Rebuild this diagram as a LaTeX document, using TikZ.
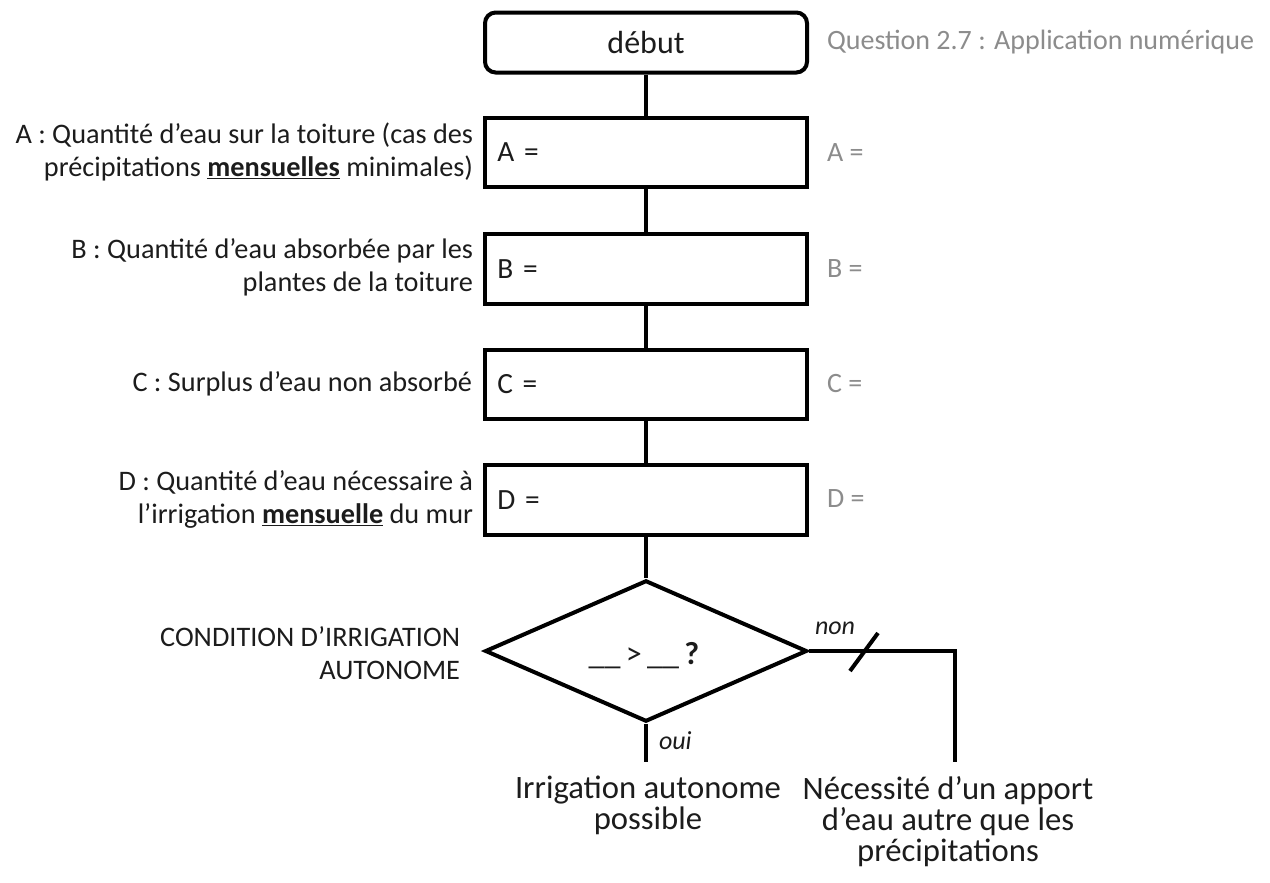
\documentclass[tikz,border=0pt]{standalone}
\usepackage{fontspec}
\setmainfont{Carlito}
\usetikzlibrary{shapes.geometric}

\definecolor{inkdark}{RGB}{28,28,28}
\definecolor{inkgray}{RGB}{140,140,140}

\tikzset{every picture/.style={line width=3pt}}
\tikzset{
  startbox/.style={draw, rounded corners=8pt, minimum width=241.5pt, minimum height=45pt, font=\fontsize{24}{28}\selectfont, text=inkdark},
  calcbox/.style={draw, minimum width=241.5pt, minimum height=52pt, text width=223pt, inner xsep=9pt, align=left, font=\fontsize{22}{26}\selectfont, text=inkdark},
  decision/.style={draw, diamond, aspect=2.27, minimum width=241.5pt, minimum height=106pt, inner sep=0pt},
  condtext/.style={inner sep=0pt, font=\fontsize{24}{28}\selectfont, text=inkdark},
  sidelabel/.style={anchor=east, align=right, inner sep=0pt, font=\fontsize{21.2}{24.75}\selectfont, text=inkdark},
  answer/.style={anchor=west, inner sep=0pt, font=\fontsize{21}{24}\selectfont, text=inkgray},
  branch/.style={inner sep=0pt, font=\fontsize{19.5}{24}\selectfont\itshape, text=inkdark},
  outcome/.style={anchor=north, align=center, inner sep=0pt, font=\fontsize{24.5}{23.3}\selectfont, text=inkdark}
}

\begin{document}
\begin{tikzpicture}[x=0.75pt,y=0.75pt,yscale=-1,xscale=1]
\useasboundingbox (0,0) rectangle (1270,882);

% flow boxes
\node[startbox] (debut) at (646,42.5) {début};
\node[calcbox] (boxA) at (646,152.5) {A =};
\node[calcbox] (boxB) at (646,269) {B =};
\node[calcbox] (boxC) at (646,384.5) {C =};
\node[calcbox] (boxD) at (646,500) {D =};
\node[decision] (cond) at (646,651) {};
\node[condtext] (condexpr) at (644,656) {\_\_\,>\,\_\_\,\textbf{?}};

% connectors
\draw (debut) -- (boxA);
\draw (boxA) -- (boxB);
\draw (boxB) -- (boxC);
\draw (boxC) -- (boxD);
\draw (boxD) -- (cond);
\coordinate (ouiend) at (646,762);
\coordinate (nonend) at (955,762);
\draw (cond.south) -- (ouiend);
\draw (cond.east) -| (nonend);
\draw (850,671) -- (878,633);

% branch labels
\node[branch, anchor=west] (oui) at (657,741) {oui};
\node[branch, anchor=west] (non) at (813,628) {non};

% left descriptions
\node[sidelabel] (descA) at (475,152) {A : Quantité d’eau sur la toiture (cas des\\précipitations \underline{\textbf{mensuelles}} minimales)};
\node[sidelabel] (descB) at (475,267) {B : Quantité d’eau absorbée par les\\plantes de la toiture};
\node[sidelabel] (descC) at (474,384) {C : Surplus d’eau non absorbé};
\node[sidelabel] (descD) at (475,499) {D : Quantité d’eau nécessaire à\\l’irrigation \underline{\textbf{mensuelle}} du mur};
\node[sidelabel] (descCond) at (462,653) {CONDITION D’IRRIGATION\\AUTONOME};

% right answers
\node[answer] (question) at (825,42) {Question 2.7 : Application numérique};
\node[answer] (ansA) at (825,153) {A =};
\node[answer] (ansB) at (825,269) {B =};
\node[answer] (ansC) at (825,384) {C =};
\node[answer] (ansD) at (825,499) {D =};

% outcomes
\node[outcome] (okend) at (648,774) {Irrigation autonome\\possible};
\node[outcome] (koend) at (948,774) {Nécessité d’un apport\\d’eau autre que les\\précipitations};

\end{tikzpicture}
\end{document}
